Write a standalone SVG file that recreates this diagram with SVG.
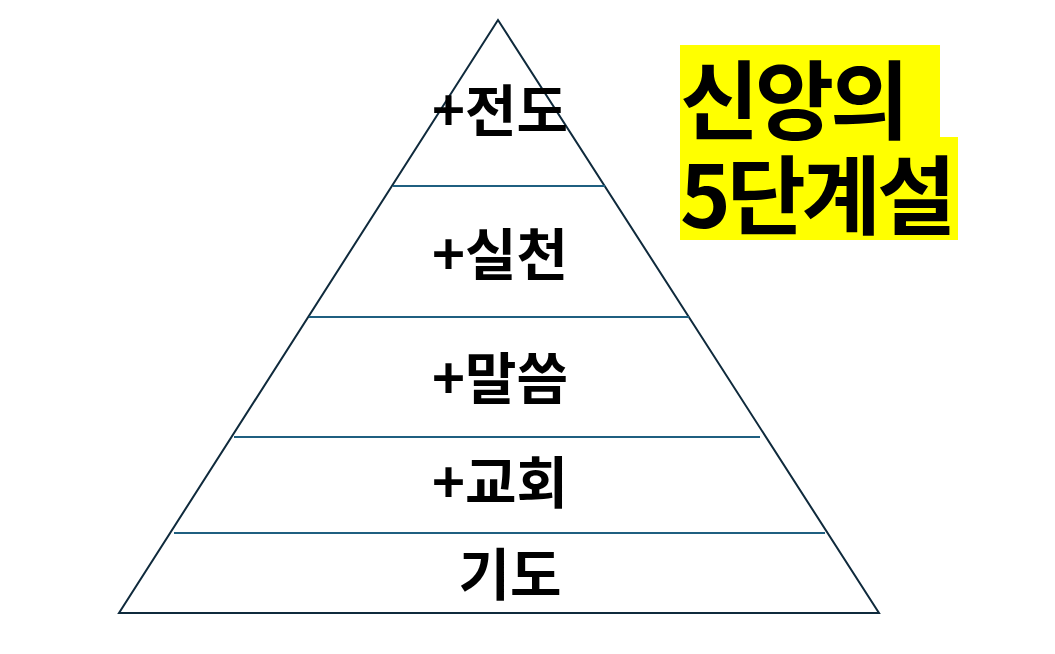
<svg xmlns="http://www.w3.org/2000/svg" width="1055" height="654" viewBox="0 0 1055 654">
<style>
.lbl{font-family:"Noto Sans CJK KR","Noto Sans",sans-serif;font-weight:bold;font-size:56px;fill:#000;text-anchor:middle}
.ttl{font-family:"Noto Sans CJK KR","Noto Sans",sans-serif;font-weight:bold;font-size:86px;fill:#000;letter-spacing:-4px}
.div{stroke:#1f5f80;stroke-width:2;fill:none}
</style>
<rect width="1055" height="654" fill="#fff"/>
<g id="pyramid">
<polygon points="498,20 119,613 879,613" fill="#fff" stroke="#0f2a3c" stroke-width="2"/>
</g>
<g id="connectors">
<line class="div" x1="393" y1="186" x2="605" y2="186"/>
<line class="div" x1="309" y1="317" x2="689" y2="317"/>
<line class="div" x1="234" y1="437" x2="760" y2="437"/>
<line class="div" x1="174" y1="533" x2="825" y2="533"/>
</g>
<g id="level5"><text class="lbl" x="500" y="131">+전도</text></g>
<g id="level4"><text class="lbl" x="500" y="275">+실천</text></g>
<g id="level3"><text class="lbl" x="500" y="399">+말씀</text></g>
<g id="level2"><text class="lbl" x="500" y="503">+교회</text></g>
<g id="level1"><text class="lbl" x="510" y="595">기도</text></g>
<g id="title">
<rect x="680" y="45" width="260" height="93" fill="#ffff00"/>
<rect x="680" y="137" width="278" height="103" fill="#ffff00"/>
<text class="ttl" x="680" y="133">신앙의</text>
<text class="ttl" x="680" y="228">5단계설</text>
</g>
</svg>
